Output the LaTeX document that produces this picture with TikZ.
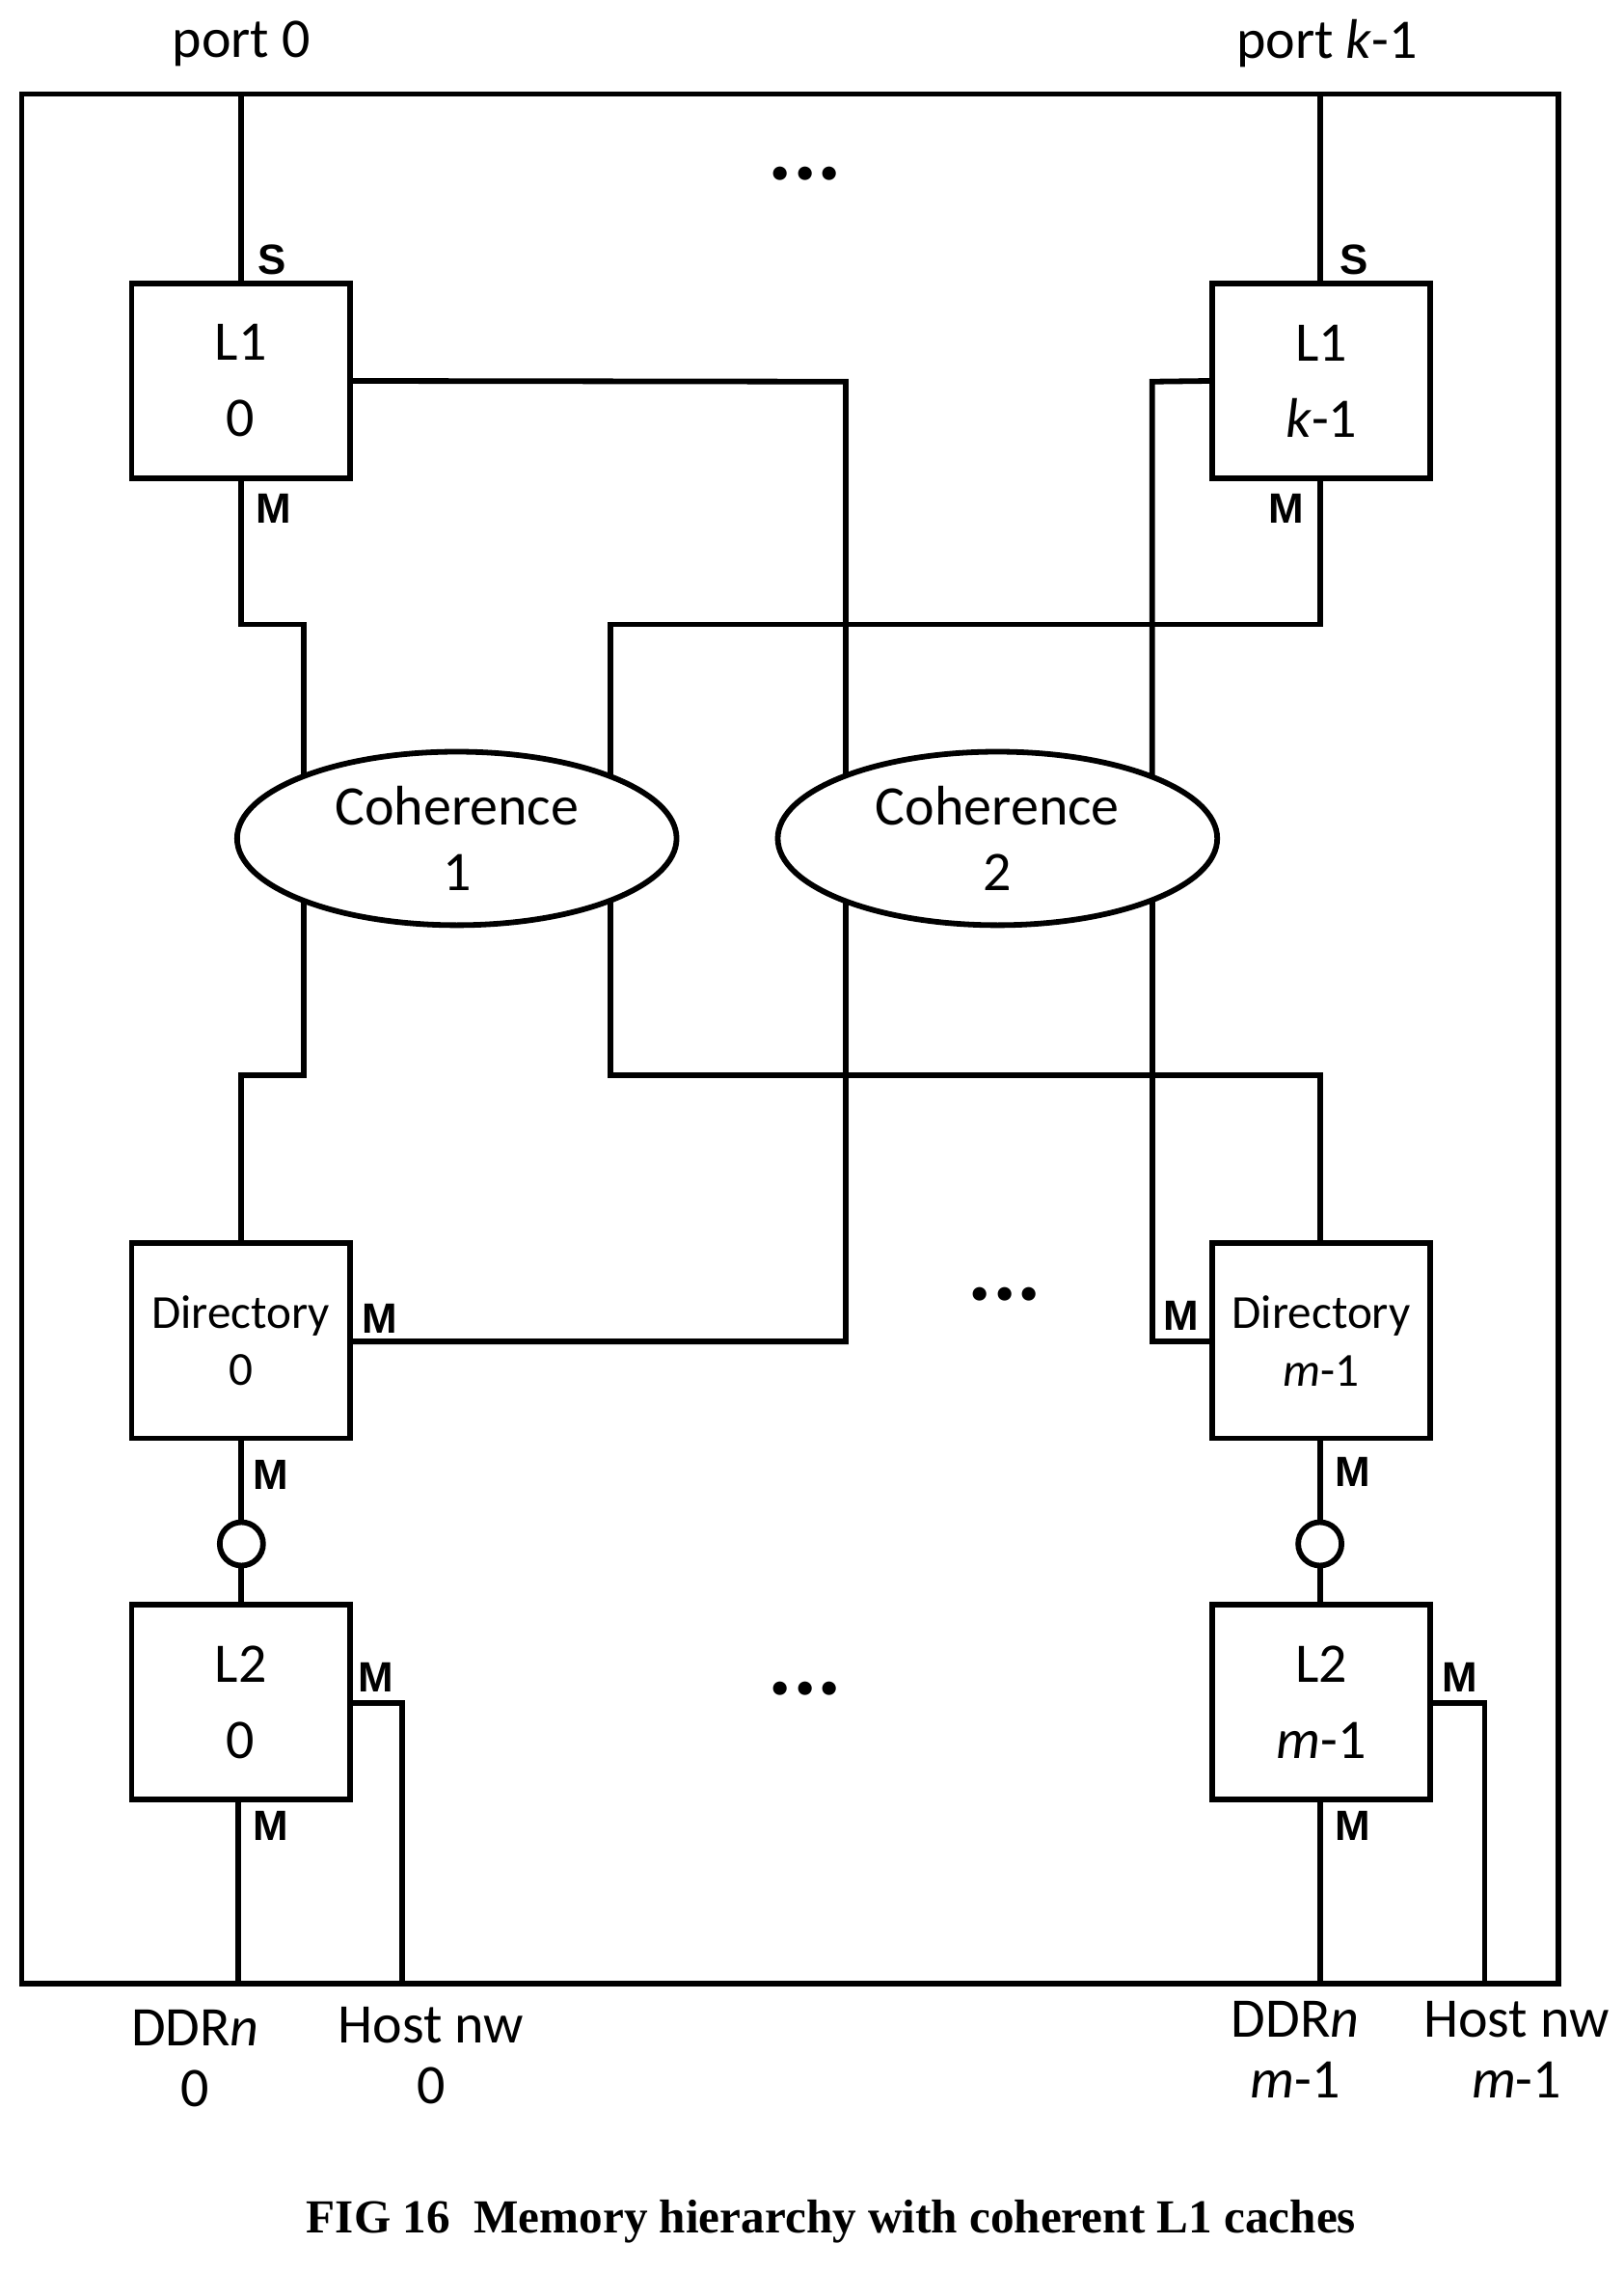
\documentclass[tikz,border=0pt]{standalone}
\usepackage{fontspec}
\setmainfont{Carlito}
\newfontfamily\capfont{Liberation Serif}
\newfontfamily\mfont{Liberation Sans}
\usetikzlibrary{shapes.geometric}
\pgfdeclarelayer{bg}\pgfsetlayers{bg,main}
\begin{document}
\begin{tikzpicture}[x=0.03cm,y=-0.03cm,line width=3.3pt,
 wire/.style={draw,line width=3.3pt},
 box/.style={draw,fill=white,minimum width=151*0.03cm,minimum height=135*0.03cm,inner sep=0,align=center,font=\fontsize{33}{45}\selectfont},
 dbox/.style={box,font=\fontsize{28}{34}\selectfont},
 ell/.style={draw,fill=white,ellipse,minimum width=304*0.03cm,minimum height=120*0.03cm,inner sep=0,align=center,font=\fontsize{33}{39}\selectfont},
 lab/.style={font=\fontsize{33}{36}\selectfont,align=center},
 ml/.style={font=\mfont\bfseries\fontsize{25}{26}\selectfont,inner sep=0},
 dots/.style={font=\bfseries\fontsize{54}{54}\selectfont}]
\useasboundingbox (0,0) rectangle (1123,1571);
\node[draw,minimum width=1063*0.03cm,minimum height=1307*0.03cm,inner sep=0] (outer) at (546.5,718.5) {};
\node[box] (l10) at (166.5,263.5) {L1\\0};
\node[box] (l1k) at (914,263.5) {L1\\\textit{k}-1};
\node[ell] (c1) at (316,580) {Coherence\\1};
\node[ell] (c2) at (690,580) {Coherence\\2};
\node[dbox] (d0) at (166.5,927.5) {Directory\\0};
\node[dbox] (dm) at (914,927.5) {Directory\\\textit{m}-1};
\node[draw,fill=white,circle,minimum size=30*0.03cm,inner sep=0] (o0) at (167,1068) {};
\node[draw,fill=white,circle,minimum size=30*0.03cm,inner sep=0] (om) at (913,1068) {};
\node[box] (l20) at (166.5,1177.5) {L2\\0};
\node[box] (l2m) at (914,1177.5) {L2\\\textit{m}-1};
\coordinate (p0) at (167,65); \coordinate (pk) at (913,65);
\coordinate (b0) at (165,1372); \coordinate (h0) at (278,1372);
\coordinate (bm) at (913,1372); \coordinate (hm) at (1027,1372);
\begin{pgfonlayer}{bg}
\begin{scope}[every path/.style={wire}]
\draw (p0) -- (l10.north -| p0);
\draw (pk) -- (l1k.north -| pk);
\draw (l10.east) -- (585,264) -- (585,928) -- (d0.east |- 0,928);
\draw (167,330) -- (167,432) -- (210,432) -- (210,580);
\draw (913,330) -- (913,432) -- (422,432) -- (422,580);
\draw (l1k.west) -- (797,264) -- (797,580);
\draw (210,580) -- (210,744) -- (167,744) -- (d0.north -| 167,0);
\draw (422,580) -- (422,744) -- (913,744) -- (dm.north -| 913,0);
\draw (797,580) -- (797,928) -- (dm.west |- 0,928);
\draw (d0.south -| o0) -- (o0) -- (l20.north -| o0);
\draw (dm.south -| om) -- (om) -- (l2m.north -| om);
\draw (l20.south -| b0) -- (b0);
\draw (l20.east |- 0,1178) -- (278,1178) -- (h0);
\draw (l2m.south -| bm) -- (bm);
\draw (l2m.east |- 0,1178) -- (1027,1178) -- (hm);
\end{scope}
\end{pgfonlayer}
\node[lab] (tp0) at (167,30) {port 0};
\node[lab] (tpk) at (918,30) {port \textit{k}-1};
\node[ml] (s0) at (188,180) {S};
\node[ml] (sk) at (937,180) {S};
\node[ml] (m1) at (189,352) {M};
\node[ml] (m2) at (890,352) {M};
\node[ml] (m3) at (263,912) {M};
\node[ml] (m4) at (817,910) {M};
\node[ml] (m5) at (187,1020) {M};
\node[ml] (m6) at (936,1018) {M};
\node[ml] (m7) at (260,1160) {M};
\node[ml] (m8) at (1010,1160) {M};
\node[ml] (m9) at (187,1263) {M};
\node[ml] (m10) at (936,1263) {M};
\node[dots] (dt1) at (557,120) {...};
\node[dots] (dt2) at (695,895) {...};
\node[dots] (dt3) at (557,1168) {...};
\node[lab] (ld0) at (135,1424) {DDR\textit{n}\\0};
\node[lab] (lh0) at (298,1422) {Host nw\\0};
\node[lab] (ldm) at (896,1418) {DDR\textit{n}\\\textit{m}-1};
\node[lab] (lhm) at (1049,1418) {Host nw\\\textit{m}-1};
\node[font=\capfont\bfseries\fontsize{28}{32}\selectfont] (cap) at (575,1537) {FIG 16\ \ Memory hierarchy with coherent L1 caches};
\end{tikzpicture}
\end{document}
